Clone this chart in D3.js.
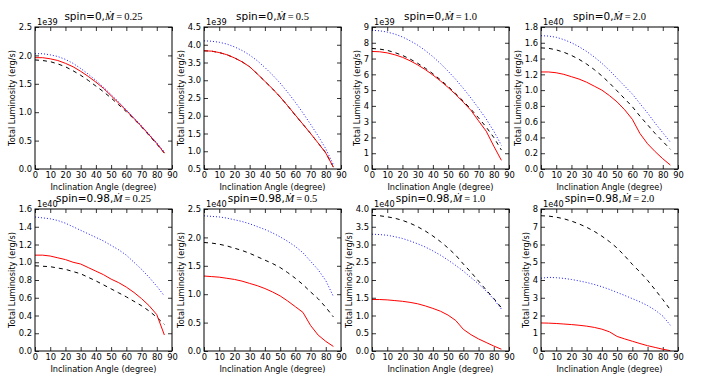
<!DOCTYPE html>
<html>
<head>
<meta charset="utf-8">
<script src="https://cdn.jsdelivr.net/npm/d3@7"></script>
<style>
  body { margin: 0; background: #fff; }
  svg { font-family: "DejaVu Sans", sans-serif; }
</style>
</head>
<body>
<div class="usable"></div>
<script>
// angulos de inclinacion (grados)
const angulos = [0, 5, 10, 15, 20, 25, 30, 35, 40, 45, 50, 55, 60, 65, 70, 75, 80, 85]
const xTicks = [0, 10, 20, 30, 40, 50, 60, 70, 80, 90]

// un valor por panel, fila de arriba y luego fila de abajo
const spins = ["0", "0", "0", "0", "0.98", "0.98", "0.98", "0.98"]
const mdots = ["0.25", "0.5", "1.0", "2.0", "0.25", "0.5", "1.0", "2.0"]
const exponentes = ["1e39", "1e39", "1e39", "1e40", "1e40", "1e40", "1e40", "1e40"]
const dominiosY = [[0, 2.5], [0.5, 4.5], [0, 9], [0, 1.8], [0, 1.6], [0, 2.5], [0, 4], [0, 8]]
const pasosY = [0.5, 0.5, 1, 0.2, 0.2, 0.5, 0.5, 1]

// curvas: linea roja continua
const curvaRoja = [
  [1.96, 1.96, 1.94, 1.91, 1.86, 1.80, 1.72, 1.63, 1.53, 1.42, 1.29, 1.16, 1.03, 0.89, 0.75, 0.60, 0.45, 0.28],
  [3.83, 3.82, 3.78, 3.72, 3.63, 3.52, 3.38, 3.18, 2.97, 2.76, 2.53, 2.28, 2.02, 1.76, 1.50, 1.23, 0.95, 0.55],
  [7.45, 7.43, 7.36, 7.24, 7.08, 6.86, 6.60, 6.30, 5.96, 5.58, 5.17, 4.72, 4.23, 3.72, 3.05, 2.40, 1.45, 0.55],
  [1.23, 1.23, 1.22, 1.20, 1.17, 1.14, 1.10, 1.05, 1.00, 0.93, 0.85, 0.75, 0.63, 0.45, 0.32, 0.22, 0.13, 0.05],
  [1.08, 1.08, 1.07, 1.05, 1.03, 1.00, 0.98, 0.94, 0.90, 0.86, 0.81, 0.77, 0.72, 0.66, 0.59, 0.51, 0.41, 0.18],
  [1.32, 1.31, 1.30, 1.28, 1.26, 1.23, 1.19, 1.15, 1.10, 1.04, 0.97, 0.88, 0.78, 0.68, 0.45, 0.28, 0.17, 0.08],
  [1.45, 1.45, 1.44, 1.42, 1.40, 1.37, 1.33, 1.27, 1.20, 1.12, 1.01, 0.86, 0.61, 0.46, 0.34, 0.24, 0.14, 0.05],
  [1.58, 1.57, 1.55, 1.52, 1.49, 1.45, 1.40, 1.33, 1.23, 1.08, 0.82, 0.68, 0.55, 0.42, 0.30, 0.20, 0.10, 0.02]
]

// linea negra discontinua
const curvaNegra = [
  [1.92, 1.91, 1.89, 1.85, 1.80, 1.73, 1.65, 1.56, 1.46, 1.36, 1.25, 1.13, 1.01, 0.88, 0.74, 0.59, 0.44, 0.28],
  [3.83, 3.82, 3.78, 3.72, 3.63, 3.52, 3.38, 3.18, 2.97, 2.76, 2.53, 2.28, 2.01, 1.76, 1.50, 1.23, 0.96, 0.55],
  [7.64, 7.60, 7.52, 7.38, 7.20, 6.97, 6.70, 6.39, 6.04, 5.65, 5.23, 4.78, 4.30, 3.79, 3.24, 2.66, 2.00, 1.20],
  [1.535, 1.53, 1.51, 1.48, 1.44, 1.39, 1.33, 1.26, 1.18, 1.09, 0.99, 0.89, 0.79, 0.67, 0.56, 0.45, 0.35, 0.25],
  [0.96, 0.955, 0.95, 0.935, 0.92, 0.895, 0.87, 0.83, 0.79, 0.745, 0.70, 0.655, 0.61, 0.56, 0.51, 0.45, 0.38, 0.30],
  [1.91, 1.90, 1.88, 1.85, 1.81, 1.77, 1.72, 1.66, 1.60, 1.54, 1.47, 1.38, 1.28, 1.17, 1.04, 0.92, 0.77, 0.60],
  [3.82, 3.81, 3.78, 3.74, 3.68, 3.60, 3.50, 3.38, 3.24, 3.08, 2.90, 2.70, 2.45, 2.22, 1.97, 1.72, 1.48, 1.22],
  [7.62, 7.60, 7.54, 7.45, 7.32, 7.16, 6.97, 6.74, 6.47, 6.16, 5.80, 5.36, 4.88, 4.45, 3.98, 3.45, 2.90, 2.32]
]

// linea azul punteada
const curvaAzul = [
  [2.03, 2.03, 2.01, 1.98, 1.93, 1.86, 1.77, 1.67, 1.56, 1.44, 1.31, 1.18, 1.04, 0.90, 0.76, 0.61, 0.46, 0.30],
  [4.11, 4.10, 4.07, 4.02, 3.94, 3.84, 3.71, 3.55, 3.36, 3.15, 2.92, 2.66, 2.38, 2.08, 1.76, 1.43, 1.07, 0.62],
  [8.79, 8.76, 8.68, 8.55, 8.37, 8.13, 7.85, 7.51, 7.12, 6.68, 6.20, 5.68, 5.11, 4.50, 3.85, 3.17, 2.40, 1.50],
  [1.69, 1.685, 1.67, 1.64, 1.60, 1.55, 1.49, 1.42, 1.34, 1.25, 1.15, 1.05, 0.95, 0.83, 0.71, 0.58, 0.46, 0.34],
  [1.51, 1.50, 1.49, 1.47, 1.44, 1.40, 1.36, 1.32, 1.28, 1.24, 1.19, 1.14, 1.08, 1.00, 0.92, 0.83, 0.73, 0.62],
  [2.38, 2.37, 2.36, 2.34, 2.31, 2.28, 2.24, 2.19, 2.14, 2.08, 2.01, 1.93, 1.84, 1.73, 1.58, 1.43, 1.24, 0.96],
  [3.29, 3.28, 3.26, 3.22, 3.17, 3.10, 3.02, 2.93, 2.82, 2.70, 2.56, 2.41, 2.25, 2.07, 1.89, 1.69, 1.46, 1.18],
  [4.10, 4.15, 4.13, 4.09, 4.03, 3.95, 3.86, 3.75, 3.62, 3.47, 3.30, 3.13, 2.95, 2.77, 2.56, 2.30, 1.97, 1.45]
]

const width = 706,
  height = 379

const anchoEje = 137,
  altoEje = 142,
  izquierdas = [35, 204, 372, 541],
  arribas = [27, 209]

const tamTick = 8.4,
  tamLabel = 8.2

let svg = d3.select(".usable").append("svg")
  .attr("width", width)
  .attr("height", height)

function dibujarPanel(i) {
  let col = i % 4
  let fila = Math.floor(i / 4)
  let x0 = izquierdas[col]
  let y0 = arribas[fila]

  let g = svg.append("g").attr("transform", "translate(" + x0 + "," + y0 + ")")

  let x = d3.scaleLinear().domain([0, 90]).range([0, anchoEje])
  let y = d3.scaleLinear().domain(dominiosY[i]).range([altoEje, 0])

  let paso = pasosY[i]
  let yTicks = d3.range(dominiosY[i][0], dominiosY[i][1] + paso / 2, paso)
  let formato = paso < 1 ? d3.format(".1f") : d3.format("d")

  // ejes con ticks hacia adentro (en los cuatro lados)
  let abajo = g.append("g").attr("transform", "translate(0," + altoEje + ")")
    .call(d3.axisBottom(x).tickValues(xTicks).tickSizeInner(-4).tickSizeOuter(0).tickPadding(3))
  let arriba = g.append("g")
    .call(d3.axisTop(x).tickValues(xTicks).tickSizeInner(-4).tickSizeOuter(0).tickFormat(""))
  let izq = g.append("g")
    .call(d3.axisLeft(y).tickValues(yTicks).tickSizeInner(-4).tickSizeOuter(0).tickPadding(3).tickFormat(formato))
  let der = g.append("g").attr("transform", "translate(" + anchoEje + ",0)")
    .call(d3.axisRight(y).tickValues(yTicks).tickSizeInner(-4).tickSizeOuter(0).tickFormat(""))

  ;[abajo, arriba, izq, der].forEach(function (a) {
    a.select(".domain").remove()
    a.attr("font-family", null).attr("font-size", null)
    a.selectAll("line").attr("stroke", "#000").attr("stroke-width", 0.8)
    a.selectAll("text").attr("fill", "#000").style("font-size", tamTick + "px")
  })

  // lineas de datos
  let linea = d3.line()
    .x(function (d, k) { return x(angulos[k]) })
    .y(function (d) { return y(d) })

  g.append("path").datum(curvaNegra[i])
    .attr("d", linea).attr("fill", "none")
    .attr("stroke", "#000").attr("stroke-width", 1).attr("stroke-dasharray", "4,4")
  g.append("path").datum(curvaRoja[i])
    .attr("d", linea).attr("fill", "none")
    .attr("stroke", "#ff0000").attr("stroke-width", 1)
  g.append("path").datum(curvaAzul[i])
    .attr("d", linea).attr("fill", "none")
    .attr("stroke", "#0000ff").attr("stroke-width", 0.9).attr("stroke-dasharray", "1,2")

  // marco
  g.append("rect")
    .attr("x", 0).attr("y", 0).attr("width", anchoEje).attr("height", altoEje)
    .attr("fill", "none").attr("stroke", "#000").attr("stroke-width", 1)

  // texto del exponente
  g.append("text").text(exponentes[i])
    .attr("x", 2).attr("y", -2.5)
    .style("font-size", tamLabel + "px")

  // titulo
  let titulo = g.append("text")
    .attr("x", anchoEje / 2).attr("y", -7)
    .attr("text-anchor", "middle")
    .style("font-size", "10.5px")
  titulo.append("tspan").text("spin=" + spins[i] + ",")
  titulo.append("tspan").text("\u1E40")
    .style("font-family", "'Liberation Serif', 'DejaVu Serif', serif")
    .style("font-style", "italic").style("font-size", "11px")
  titulo.append("tspan").text("\u2009=\u2009" + mdots[i])
    .style("font-family", "'Liberation Serif', 'DejaVu Serif', serif")
    .style("font-size", "10.5px")

  // etiquetas
  g.append("text").text("Inclination Angle (degree)")
    .attr("x", anchoEje / 2).attr("y", altoEje + 21)
    .attr("text-anchor", "middle")
    .style("font-size", tamLabel + "px")

  let minX = 0
  izq.selectAll("text").each(function () {
    let b = this.getBBox()
    minX = Math.min(minX, b.x)
  })
  g.append("text").text("Total Luminosity (erg/s)")
    .attr("transform", "translate(" + (minX - 4) + "," + (altoEje / 2) + ") rotate(-90)")
    .attr("text-anchor", "middle")
    .style("font-size", tamLabel + "px")
}

for (let i = 0; i < 8; i++) {
  dibujarPanel(i)
}
</script>
</body>
</html>
